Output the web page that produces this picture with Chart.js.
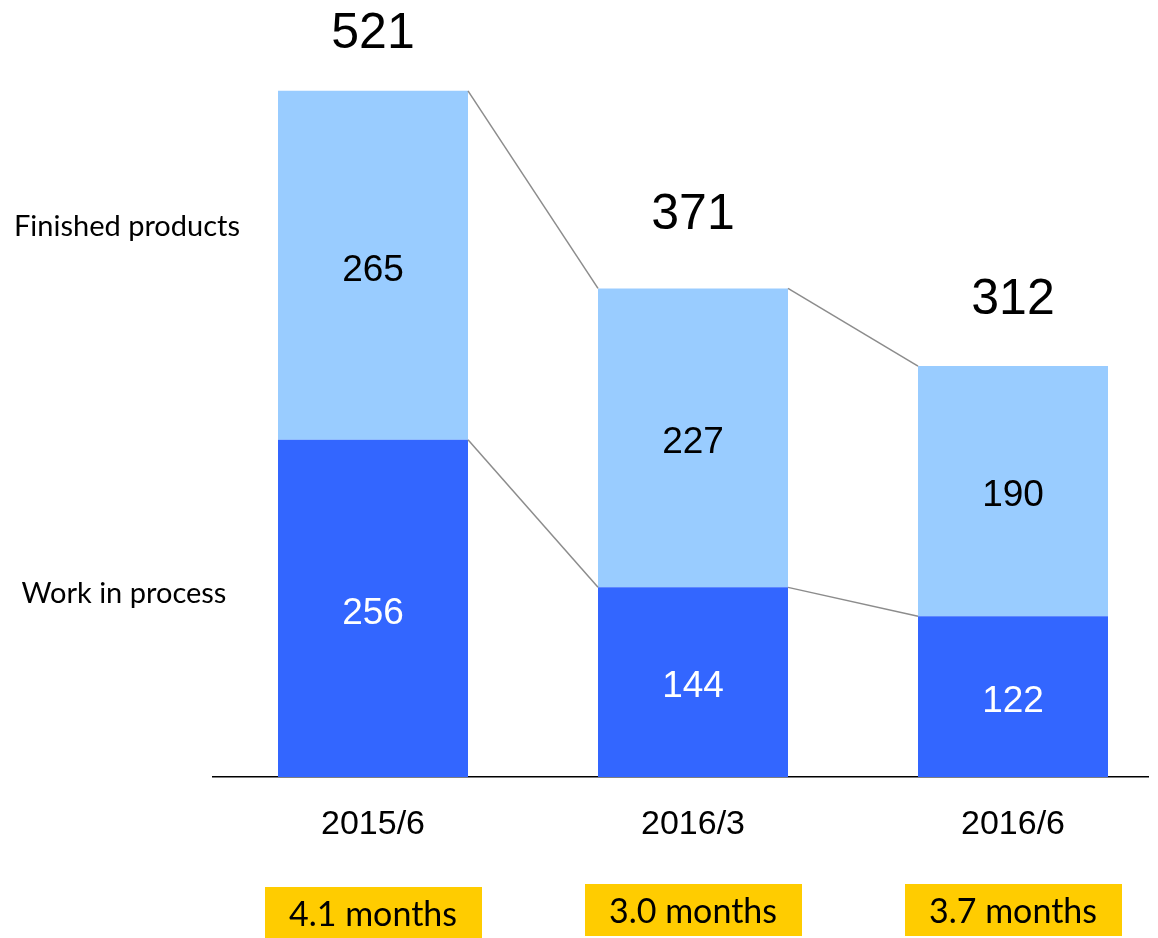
<!DOCTYPE html>
<html>
<head>
<meta charset="utf-8">
<script src="https://cdn.jsdelivr.net/npm/chart.js@4.4.1/dist/chart.umd.min.js"></script>
<style>
  html, body { margin: 0; padding: 0; background: #fff; overflow: hidden; }
  #wrap { width: 1158px; height: 938px; position: relative; }
</style>
</head>
<body>
<div id="wrap"><canvas id="inventoryChart" width="1158" height="938"></canvas></div>
<script>
const categories = ['2015/6', '2016/3', '2016/6'];
const workInProcess = [256, 144, 122];
const finishedProducts = [265, 227, 190];
const totals = [521, 371, 312];
const monthsLabels = ['4.1 months', '3.0 months', '3.7 months'];
const seriesNames = ['Work in process', 'Finished products'];

// hand placed offsets of the total labels above each bar (px)
const totalOffsets = [57, 73, 66];

const overlay = {
    id: 'overlay',
    afterDatasetsDraw(chart) {
        const ctx = chart.ctx;
        const x = chart.scales.x;
        const y = chart.scales.y;
        const metaWip = chart.getDatasetMeta(0);
        const metaFin = chart.getDatasetMeta(1);
        ctx.save();

        // connector lines between bars
        ctx.strokeStyle = '#8c8c8c';
        ctx.lineWidth = 1.5;
        for (let i = 0; i < categories.length - 1; i++) {
            const aw = metaFin.data[i].width / 2, bw = metaFin.data[i + 1].width / 2;
            [[metaFin, totals], [metaWip, workInProcess]].forEach(([meta, vals]) => {
                ctx.beginPath();
                ctx.moveTo(meta.data[i].x + aw, y.getPixelForValue(vals[i]));
                ctx.lineTo(meta.data[i + 1].x - bw, y.getPixelForValue(vals[i + 1]));
                ctx.stroke();
            });
        }

        // values inside segments
        ctx.textAlign = 'center';
        ctx.textBaseline = 'middle';
        ctx.font = '37px "Liberation Sans", Arial, sans-serif';
        metaWip.data.forEach((bar, i) => {
            ctx.fillStyle = '#ffffff';
            ctx.fillText(workInProcess[i], bar.x, (bar.y + bar.base) / 2 + 5);
        });
        metaFin.data.forEach((bar, i) => {
            ctx.fillStyle = '#000000';
            ctx.fillText(finishedProducts[i], bar.x, (bar.y + bar.base) / 2 + 5);
        });

        // totals
        ctx.font = '50px "Liberation Sans", Arial, sans-serif';
        ctx.fillStyle = '#000000';
        metaFin.data.forEach((bar, i) => {
            ctx.fillText(totals[i], bar.x, y.getPixelForValue(totals[i]) - totalOffsets[i]);
        });

        // series names on the left
        ctx.font = '29px Lato, "Noto Sans", sans-serif';
        ctx.fillText(seriesNames[1], 127, 227);
        ctx.fillText(seriesNames[0], 124, 594);

        // months boxes
        ctx.font = '34px Lato, "Noto Sans", sans-serif';
        categories.forEach((c, i) => {
            const cx = x.getPixelForValue(i);
            const top = i === 0 ? 887 : 884;
            ctx.fillStyle = '#ffcc00';
            ctx.fillRect(cx - 108, top, 217, 52);
            ctx.fillStyle = '#000000';
            ctx.fillText(monthsLabels[i], cx, top + 28);
        });

        ctx.restore();
    }
};

new Chart(document.getElementById('inventoryChart'), {
    type: 'bar',
    data: {
        datasets: [
            {
                label: seriesNames[0],
                data: workInProcess.map((v, i) => ({ x: i, y: v })),
                backgroundColor: '#3366ff',
                borderWidth: 0
            },
            {
                label: seriesNames[1],
                data: finishedProducts.map((v, i) => ({ x: i, y: v })),
                backgroundColor: '#99ccff',
                borderWidth: 0
            }
        ]
    },
    options: {
        responsive: false,
        animation: false,
        barPercentage: 1,
        categoryPercentage: 0.59375,
        layout: { padding: { left: 213, right: 10, top: 0, bottom: 0 } },
        plugins: {
            legend: { display: false },
            tooltip: { enabled: false }
        },
        scales: {
            x: {
                type: 'linear',
                stacked: true,
                offset: false,
                min: -0.5,
                max: 2.421875,
                grid: { display: false, drawTicks: false },
                border: { display: true, color: '#000000', width: 1.5 },
                afterBuildTicks: s => { s.ticks = categories.map((c, i) => ({ value: i })); },
                afterFit: s => { s.height = 938 - 777; },
                ticks: {
                    padding: 27,
                    color: '#000000',
                    font: { family: '"Liberation Sans", Arial, sans-serif', size: 34 },
                    callback: v => categories[v]
                }
            },
            y: {
                stacked: true,
                display: false,
                min: 0,
                max: 590
            }
        }
    },
    plugins: [overlay]
});
</script>
</body>
</html>
